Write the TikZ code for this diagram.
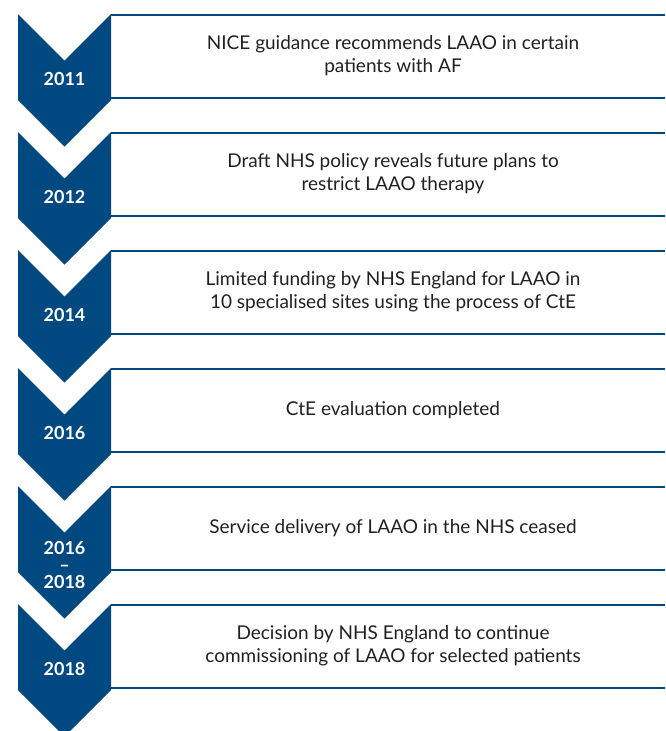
\documentclass[tikz,border=0pt]{standalone}
\usepackage{fontspec}
\setmainfont{Lato}
\definecolor{nhsblue}{RGB}{0,72,128}
\definecolor{inktext}{RGB}{35,31,32}
\tikzset{
  yearchev/.style={fill=nhsblue},
  yearlabel/.style={font=\bfseries\fontsize{18}{22}\selectfont,text=white,align=center},
  eventline/.style={draw=nhsblue,line width=1.6pt},
  eventtext/.style={font=\fontsize{19}{23}\selectfont,text=inktext,align=center}
}
\begin{document}
\begin{tikzpicture}[x=1pt,y=-1pt]
  \useasboundingbox (0,0) rectangle (665,731);
  % One step per row: chevron, two rules and the event text
  \foreach \i/\t/\txt in {
      1/14/{NICE guidance recommends LAAO in certain\\patients with AF},
      2/132/{Draft NHS policy reveals future plans to\\restrict LAAO therapy},
      3/250/{Limited funding by NHS England for LAAO in\\10 specialised sites using the process of CtE},
      4/368/{CtE evaluation completed},
      5/486/{Service delivery of LAAO in the NHS ceased},
      6/604/{Decision by NHS England to continue\\commissioning of LAAO for selected patients}} {
    % chevron
    \fill[yearchev] (18,\t) -- (64.5,\t+46.5) -- (111,\t) -- (111,\t+86)
      -- (64.5,\t+132.5) -- (18,\t+86) -- cycle;
    % rules above and below the event
    \coordinate (top\i) at (111,\t+0.8);
    \coordinate (bot\i) at (111,\t+84);
    \draw[eventline] (top\i) -- ++(554,0);
    \draw[eventline] (bot\i) -- ++(554,0);
    \node[eventtext] (event\i) at (393,\t+42) {\txt};
  }
  % years
  \node[yearlabel] (year1) at (64.5,79) {2011};
  \node[yearlabel] (year2) at (64.5,197) {2012};
  \node[yearlabel] (year3) at (64.5,315) {2014};
  \node[yearlabel] (year4) at (64.5,433) {2016};
  \node[yearlabel] (year5) at (64.5,565) {2016\\[-5pt]–\\[-5pt]2018};
  \node[yearlabel] (year6) at (64.5,669) {2018};
\end{tikzpicture}
\end{document}
